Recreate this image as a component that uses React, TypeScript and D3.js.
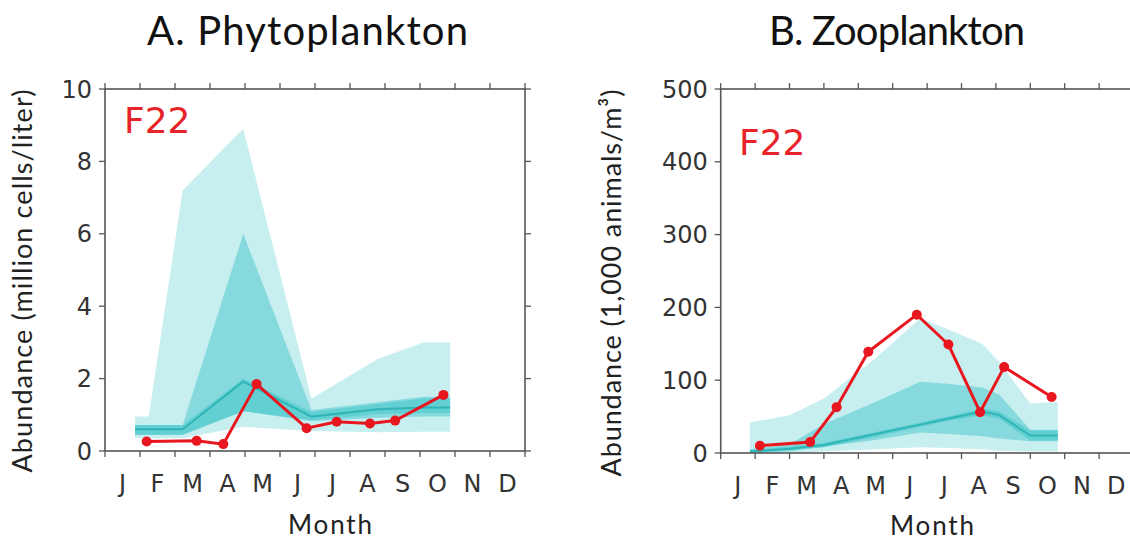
import * as d3 from 'd3';

const months = ['J', 'F', 'M', 'A', 'M', 'J', 'J', 'A', 'S', 'O', 'N', 'D'];

// A. phytoplankton (million cells/liter) - envelope knots in month units
const phytoKnots = [0.86, 1.25, 2.22, 3.95, 5.9, 7.8, 9.1, 9.86];
const phytoLightHi = [0.95, 0.95, 7.2, 8.9, 1.45, 2.55, 3.0, 3.0];
const phytoLightLo = [0.35, 0.35, 0.35, 0.67, 0.55, 0.52, 0.53, 0.53];
const phytoMidHi = [0.72, 0.72, 0.72, 6.0, 1.13, 1.35, 1.5, 1.5];
const phytoMidLo = [0.45, 0.45, 0.45, 1.1, 0.82, 0.92, 0.95, 0.95];
const phytoInnerHi = [0.72, 0.72, 0.72, 2.0, 1.08, 1.3, 1.45, 1.45];
const phytoInnerLo = [0.45, 0.45, 0.45, 1.1, 0.85, 1.02, 1.05, 1.05];
const phytoMedian = [0.6, 0.6, 0.6, 1.92, 0.95, 1.15, 1.2, 1.2];
const phytoObsMonth = [1.19, 2.62, 3.38, 4.33, 5.76, 6.62, 7.57, 8.29, 9.67];
const phytoObs = [0.26, 0.28, 0.19, 1.85, 0.63, 0.81, 0.76, 0.84, 1.55];
const phytoTicks = [0, 2, 4, 6, 8, 10];

// B. zooplankton (1,000 animals/m3)
const zooKnots = [0.85, 2.0, 3.0, 4.5, 5.8, 6.6, 7.6, 8.1, 9.0, 9.8];
const zooLightHi = [42, 52, 75, 130, 185, 170, 150, 125, 68, 70];
const zooLightLo = [0, 0, 2, 5, 8, 7, 5, 3, 2, 2];
const zooMidHi = [5, 12, 40, 70, 98, 95, 90, 80, 32, 32];
const zooMidLo = [0, 2, 9, 18, 28, 26, 23, 20, 16, 16];
const zooInnerHi = [4, 9, 14, 29, 42, 50, 61, 57, 31, 31];
const zooInnerLo = [0, 4, 8, 22, 36, 44, 52, 47, 17, 17];
const zooMedian = [2, 6, 11, 26, 39, 47, 57, 52, 24, 24];
const zooObsMonth = [1.14, 2.6, 3.37, 4.29, 5.7, 6.62, 7.54, 8.24, 9.62];
const zooObs = [10, 15, 63, 139, 190, 149, 56, 118, 77];
const zooTicks = [0, 100, 200, 300, 400, 500];

const tickFont = '"DejaVu Sans", sans-serif';
const labelFont = 'Lato, "Open Sans", sans-serif';
const frameColor = '#555';

function Panel(props: any) {
  const {
    left, right, top, bottom, yMax, yTicks, knots, lightHi, lightLo, midHi, midLo,
    innerHi, innerLo, median, obsMonth, obs, tagX, tagY,
  } = props;

  const x = d3.scaleLinear().domain([0, 12]).range([left, right]);
  const y = d3.scaleLinear().domain([0, yMax]).range([bottom, top]);
  const idx = knots.map((_: number, i: number) => i);

  const band = (lo: number[], hi: number[]) =>
    d3.area<number>()
      .x(i => x(knots[i]))
      .y0(i => y(lo[i]))
      .y1(i => y(hi[i]))(idx) || '';

  const medianLine = d3.line<number>()
    .x(i => x(knots[i]))
    .y(i => y(median[i]))(idx) || '';

  const obsIdx = obs.map((_: number, i: number) => i);
  const obsLine = d3.line<number>()
    .x(i => x(obsMonth[i]))
    .y(i => y(obs[i]))(obsIdx) || '';

  const xTicks = d3.range(0, 13);

  return (
    <g>
      <path d={band(lightLo, lightHi)} fill="#c8eff0" />
      <path d={band(midLo, midHi)} fill="#86dadd" />
      <path d={band(innerLo, innerHi)} fill="#62cfd3" />
      <path d={medianLine} fill="none" stroke="#30b5b7" strokeWidth={2} />
      <path d={obsLine} fill="none" stroke="#e8161e" strokeWidth={3} />
      {obsIdx.map((i: number) => (
        <circle key={i} cx={x(obsMonth[i])} cy={y(obs[i])} r={5} fill="#e8161e" />
      ))}

      <rect x={left} y={top} width={right - left} height={bottom - top}
        fill="none" stroke={frameColor} strokeWidth={1.6} />

      {xTicks.map(t => (
        <g key={'xt' + t}>
          <line x1={x(t)} x2={x(t)} y1={bottom} y2={bottom + 6} stroke={frameColor} strokeWidth={1.3} />
          <line x1={x(t)} x2={x(t)} y1={top} y2={top - 6} stroke={frameColor} strokeWidth={1.3} />
        </g>
      ))}
      {months.map((m, i) => (
        <text key={'m' + i} x={x(i + 0.5)} y={bottom + 41} textAnchor="middle"
          fontFamily={tickFont} fontSize={24} fill="#333">{m}</text>
      ))}

      {yTicks.map((t: number) => (
        <g key={'yt' + t}>
          <line x1={left - 6} x2={left} y1={y(t)} y2={y(t)} stroke={frameColor} strokeWidth={1.3} />
          <line x1={right} x2={right + 6} y1={y(t)} y2={y(t)} stroke={frameColor} strokeWidth={1.3} />
          <text x={left - 13} y={y(t)} dy="0.36em" textAnchor="end"
            fontFamily={tickFont} fontSize={24} fill="#333">{t}</text>
        </g>
      ))}

      <text x={tagX} y={tagY} fontFamily={tickFont} fontSize={36} fill="#e8232a">F22</text>
    </g>
  );
}

export default function App() {
  return (
    <svg width={1130} height={541} style={{ position: 'absolute', left: 0, top: 0, background: '#fff' }}>
      <text x={307.5} y={45} textAnchor="middle" fontFamily={labelFont} fontSize={40}
        textLength={321} fill="#111">A. Phytoplankton</text>
      <text x={897} y={45} textAnchor="middle" fontFamily={labelFont} fontSize={40}
        textLength={256} fill="#111">B. Zooplankton</text>

      <Panel left={105} right={525} top={89} bottom={451} yMax={10} yTicks={phytoTicks}
        knots={phytoKnots} lightHi={phytoLightHi} lightLo={phytoLightLo}
        midHi={phytoMidHi} midLo={phytoMidLo} innerHi={phytoInnerHi} innerLo={phytoInnerLo}
        median={phytoMedian} obsMonth={phytoObsMonth} obs={phytoObs} tagX={124} tagY={133} />

      <Panel left={720.7} right={1133.5} top={89} bottom={453} yMax={500} yTicks={zooTicks}
        knots={zooKnots} lightHi={zooLightHi} lightLo={zooLightLo}
        midHi={zooMidHi} midLo={zooMidLo} innerHi={zooInnerHi} innerLo={zooInnerLo}
        median={zooMedian} obsMonth={zooObsMonth} obs={zooObs} tagX={739} tagY={155} />

      <text transform="translate(32,281) rotate(-90)" textAnchor="middle" fontFamily={labelFont}
        fontSize={27} textLength={383} fill="#222">Abundance (million cells/liter)</text>
      <text transform="translate(621,283) rotate(-90)" textAnchor="middle" fontFamily={labelFont}
        fontSize={27} textLength={387} fill="#222">Abundance (1,000 animals/m³)</text>

      <text x={330} y={534} textAnchor="middle" fontFamily={labelFont} fontSize={26}
        textLength={84} fill="#222">Month</text>
      <text x={932} y={535} textAnchor="middle" fontFamily={labelFont} fontSize={26}
        textLength={84} fill="#222">Month</text>
    </svg>
  );
}
